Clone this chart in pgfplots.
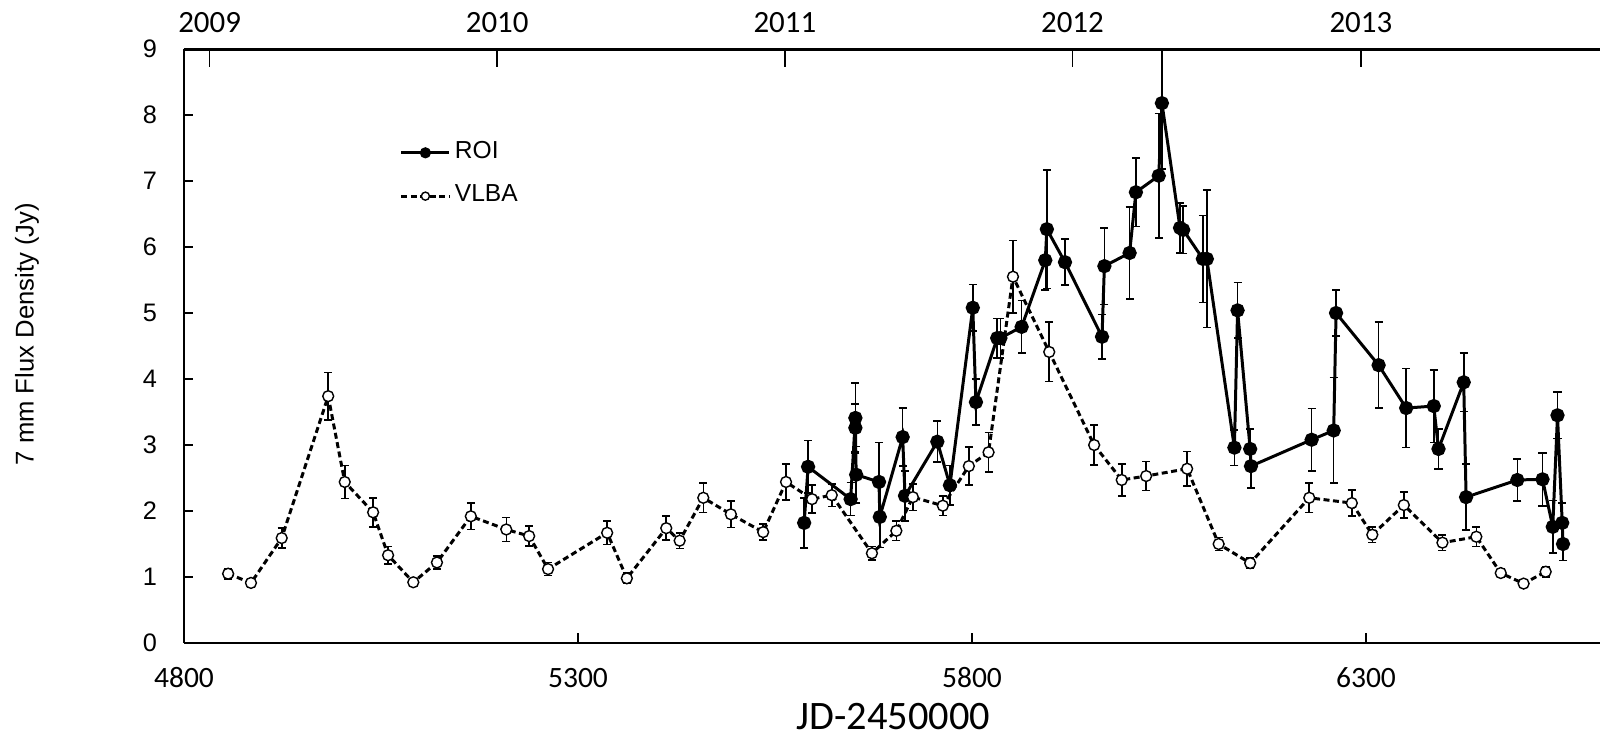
\documentclass[border=0pt]{standalone}
\usepackage{pgfplots}
\pgfplotsset{compat=1.18}
\usepackage{fontspec}
\setmainfont{Liberation Sans}
\newfontfamily\calfont{Carlito}

\pgfplotstableread{
x y e
5587 1.82 0.38
5592 2.67 0.40
5646 2.18 0.25
5652 3.41 0.53
5652 3.26 0.36
5653 2.55 0.43
5682 2.44 0.60
5683 1.91 0.46
5712 3.12 0.44
5715 2.23 0.38
5756 3.05 0.31
5772 2.39 0.30
5801 5.08 0.35
5805 3.65 0.35
5832 4.62 0.30
5836 4.62 0.30
5863 4.79 0.40
5893 5.80 0.45
5895 6.27 0.90
5918 5.77 0.35
5965 4.64 0.34
5968 5.71 0.58
6000 5.91 0.70
6008 6.83 0.52
6037 7.08 0.94
6041 8.18 1.00
6064 6.29 0.38
6068 6.26 0.36
6093 5.82 0.66
6098 5.82 1.04
6133 2.96 0.27
6137 5.04 0.42
6153 2.94 0.30
6154 2.68 0.33
6231 3.08 0.47
6259 3.22 0.80
6262 5.00 0.35
6316 4.21 0.65
6351 3.56 0.60
6386 3.59 0.55
6392 2.94 0.30
6424 3.95 0.44
6427 2.21 0.50
6492 2.47 0.32
6524 2.48 0.40
6537 1.76 0.40
6543 3.45 0.35
6549 1.82 0.30
6550 1.50 0.25
}\roidata

\pgfplotstableread{
x y e
4856 1.05 0.08
4885 0.91 0.06
4924 1.59 0.15
4983 3.74 0.36
5004 2.44 0.25
5040 1.98 0.22
5059 1.33 0.13
5091 0.92 0.05
5121 1.22 0.10
5164 1.92 0.20
5209 1.72 0.18
5238 1.62 0.15
5262 1.12 0.10
5337 1.67 0.18
5362 0.98 0.08
5412 1.74 0.18
5429 1.55 0.12
5459 2.20 0.22
5494 1.95 0.20
5535 1.68 0.12
5564 2.44 0.27
5597 2.18 0.21
5622 2.24 0.17
5673 1.36 0.10
5704 1.70 0.15
5725 2.21 0.20
5763 2.08 0.15
5796 2.68 0.29
5821 2.89 0.30
5852 5.55 0.55
5898 4.41 0.45
5955 3.00 0.30
5990 2.47 0.24
6021 2.53 0.22
6073 2.64 0.26
6113 1.50 0.10
6153 1.21 0.08
6228 2.20 0.22
6282 2.12 0.20
6308 1.64 0.12
6348 2.09 0.20
6397 1.52 0.12
6440 1.61 0.15
6471 1.06 0.06
6500 0.90 0.05
6528 1.08 0.08
}\vlbadata

\begin{document}
\begin{tikzpicture}
\begin{axis}[
  at={(0,0)}, anchor=south west,
  scale only axis, width=14.184cm, height=5.94cm,
  xmin=4800, xmax=6600, ymin=0, ymax=9,
  axis y line*=left,
  axis line style={line width=0.85pt},
  xtick={4800,5300,5800,6300}, xticklabels={4800,5300,5800,6300},
  ytick={0,1,2,3,4,5,6,7,8,9}, yticklabels={0,1,2,3,4,5,6,7,8,9},
  xtick pos=bottom, ytick pos=left,
  tick align=inside, major tick length=0.95mm,
  tick style={line width=0.45pt, black},
  xticklabel style={font=\calfont\fontsize{8.4}{10}\selectfont, anchor=center, yshift=-3.5mm},
  yticklabel style={font=\fontsize{7.2}{8}\selectfont, anchor=center, xshift=-3.4mm},
  xlabel={JD-2450000},
  ylabel={7 mm Flux Density (Jy)},
  every axis x label/.style={at={(axis description cs:0.5,0)}, anchor=center, yshift=-7.35mm, font=\calfont\fontsize{11.5}{13}\selectfont},
  every axis y label/.style={at={(axis description cs:0,0.52)}, xshift=-15.7mm, rotate=90, anchor=center, font=\fontsize{7.3}{9}\selectfont},
  legend style={at={(axis cs:5074,7.10)}, anchor=west, draw=none, fill=none, inner sep=0pt, outer sep=0pt, row sep=1.3mm, font=\fontsize{7}{8}\selectfont, nodes={inner sep=0.4mm}},
  legend image code/.code={\draw[mark repeat=2,mark phase=2,#1,mark size=1.15pt] plot coordinates {(0mm,0mm) (2.4mm,0mm) (4.8mm,0mm)};},
  legend cell align=left,
]
\addplot[black, line width=0.85pt, mark=*, mark size=1.6pt, mark options={solid, fill=black},
  error bars/.cd, y dir=both, y explicit, error bar style={solid, line width=0.45pt, black},
  error mark options={rotate=90, mark size=1.15pt, line width=0.45pt}]
  table[x=x, y=y, y error=e] {\roidata};
\addlegendentry{ROI}
\addplot[black, line width=0.85pt, dash pattern=on 1.7pt off 1.0pt, mark=*, mark size=1.55pt, mark options={solid, fill=white, line width=0.4pt},
  error bars/.cd, y dir=both, y explicit, error bar style={solid, line width=0.45pt, black},
  error mark options={rotate=90, mark size=1.15pt, line width=0.45pt}]
  table[x=x, y=y, y error=e] {\vlbadata};
\addlegendentry{VLBA}
\end{axis}
\begin{axis}[
  at={(0,0)}, anchor=south west,
  scale only axis, width=14.184cm, height=5.94cm,
  xmin=4800, xmax=6600, ymin=0, ymax=9,
  hide y axis,
  axis x line*=top,
  axis line style={draw=none},
  xtick={4832.5,5197.5,5562.5,5927.5,6293.5},
  xticklabels={2009,2010,2011,2012,2013},
  tick align=inside, major tick length=1.8mm,
  tick style={line width=0.45pt, black},
  xticklabel style={font=\calfont\fontsize{8.8}{10}\selectfont, anchor=center, yshift=2.6mm},
]
\end{axis}
\pgfresetboundingbox
\path[use as bounding box] (-1.84cm,-0.94cm) rectangle (14.16cm,6.43cm);
\end{tikzpicture}
\end{document}
